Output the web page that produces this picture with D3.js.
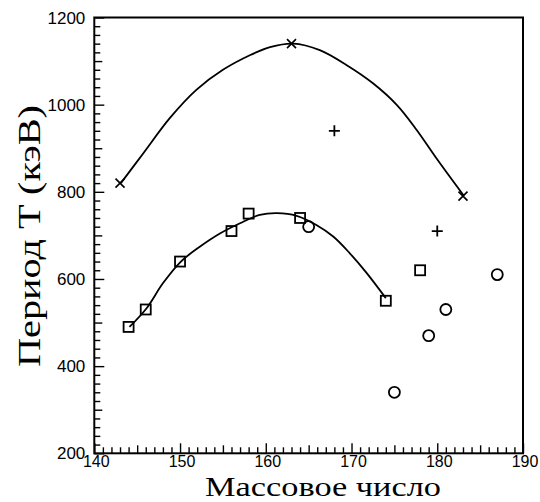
<!DOCTYPE html>
<html><head><meta charset="utf-8">
<script src="https://cdn.jsdelivr.net/npm/d3@7"></script>
<style>body{margin:0;background:#fff}svg{display:block}</style>
</head><body>
<script>
// Data
const crossX = [143, 163, 183];
const crossY = [820, 1140, 790];
const plusX = [168, 180];
const plusY = [940, 710];
const squareX = [144, 146, 150, 156, 158, 164, 174, 178];
const squareY = [490, 530, 640, 710, 750, 740, 550, 620];
const circleX = [165, 175, 179, 181, 187];
const circleY = [720, 340, 470, 530, 610];
// fitted curves
const upperCurveX = [143.1, 145.7, 148.8, 151.9, 155.0, 158.2, 160.5, 163.2, 166.3, 169.4, 172.5, 175.3, 177.6, 179.9, 183.1];
const upperCurveY = [820, 888, 969, 1034, 1080, 1114, 1132, 1140, 1125, 1091, 1049, 999, 942, 877, 791];
const lowerCurveX = [144.1, 146.1, 148.0, 150.1, 152.3, 154.7, 157.0, 159.3, 161.3, 163.6, 165.9, 167.9, 169.8, 171.8, 174.0];
const lowerCurveY = [490, 533, 590, 640, 674, 705, 728, 747, 751, 745, 724, 697, 659, 613, 556];
const xTicks = [140, 150, 160, 170, 180, 190];
const yTicks = [200, 400, 600, 800, 1000, 1200];
const xLabel = "Массовое число";
const yLabel = "Период T (кэВ)";

const W = 540, H = 502;
const m = {left: 94.3, right: 523, top: 17.5, bottom: 453.3};
const svg = d3.select("body").append("svg").attr("width", W).attr("height", H);
const x = d3.scaleLinear().domain([140, 190]).range([m.left, m.right]);
const y = d3.scaleLinear().domain([200, 1200]).range([m.bottom, m.top]);

// frame
svg.append("rect").attr("x", m.left).attr("y", m.top).attr("width", m.right - m.left).attr("height", m.bottom - m.top)
  .attr("fill", "none").attr("stroke", "#000").attr("stroke-width", 2);

// ticks (inward, bottom and left only) via d3 axes
const xAxis = d3.axisTop(x).tickValues(d3.range(140, 191, 1)).tickSize(6).tickFormat("");
const gx = svg.append("g").attr("transform", `translate(0,${m.bottom})`).call(xAxis);
gx.selectAll(".tick line").attr("y2", d => -(d % 10 === 0 ? 10 : (d % 5 === 0 ? 8 : 6)))
  .attr("stroke", "#000").attr("stroke-width", 1.4);
gx.select(".domain").remove();
const yAxis = d3.axisRight(y).tickValues(d3.range(200, 1201, 20)).tickSize(6).tickFormat("");
const gy = svg.append("g").attr("transform", `translate(${m.left},0)`).call(yAxis);
gy.selectAll(".tick line").attr("x2", d => (d % 200 === 0 ? 10 : (d % 100 === 0 ? 8 : 6)))
  .attr("stroke", "#000").attr("stroke-width", 1.4);
gy.select(".domain").remove();

// tick labels
svg.append("g").selectAll("text").data(xTicks).join("text")
  .attr("x", d => x(d) + 2).attr("y", m.bottom + 13.5).attr("text-anchor", "middle")
  .attr("font-family", "Liberation Sans, Arial, sans-serif").attr("font-size", 16).text(d => d);
svg.append("g").selectAll("text").data(yTicks).join("text")
  .attr("x", m.left - 9).attr("y", d => y(d) + 6).attr("text-anchor", "end")
  .attr("font-family", "Liberation Sans, Arial, sans-serif").attr("font-size", 17).text(d => d);

// axis titles
svg.append("text").attr("x", 205).attr("y", 496)
  .attr("textLength", 236).attr("lengthAdjust", "spacingAndGlyphs")
  .attr("font-family", "Liberation Serif, Times New Roman, serif").attr("font-size", 27).text(xLabel);
svg.append("text").attr("transform", `translate(40,367) rotate(-90)`)
  .attr("textLength", 262).attr("lengthAdjust", "spacingAndGlyphs")
  .attr("font-family", "Liberation Serif, Times New Roman, serif").attr("font-size", 31).text(yLabel);

// curves
const line = d3.line().x(d => x(d[0])).y(d => y(d[1])).curve(d3.curveCatmullRom);
svg.append("path").datum(d3.zip(upperCurveX, upperCurveY)).attr("d", line)
  .attr("fill", "none").attr("stroke", "#000").attr("stroke-width", 1.8);
svg.append("path").datum(d3.zip(lowerCurveX, lowerCurveY)).attr("d", line)
  .attr("fill", "none").attr("stroke", "#000").attr("stroke-width", 1.8);

// markers
const s = 4.5;
svg.append("g").selectAll("path").data(d3.zip(crossX, crossY)).join("path")
  .attr("d", d => `M${x(d[0]) - s},${y(d[1]) - s}L${x(d[0]) + s},${y(d[1]) + s}M${x(d[0]) - s},${y(d[1]) + s}L${x(d[0]) + s},${y(d[1]) - s}`)
  .attr("stroke", "#000").attr("stroke-width", 1.6);
svg.append("g").selectAll("path").data(d3.zip(plusX, plusY)).join("path")
  .attr("d", d => `M${x(d[0]) - 5.5},${y(d[1])}L${x(d[0]) + 5.5},${y(d[1])}M${x(d[0])},${y(d[1]) - 5.5}L${x(d[0])},${y(d[1]) + 5.5}`)
  .attr("stroke", "#000").attr("stroke-width", 1.8);
svg.append("g").selectAll("rect").data(d3.zip(squareX, squareY)).join("rect")
  .attr("x", d => x(d[0]) - 5).attr("y", d => y(d[1]) - 5).attr("width", 10).attr("height", 10)
  .attr("fill", "none").attr("stroke", "#000").attr("stroke-width", 1.8);
svg.append("g").selectAll("circle").data(d3.zip(circleX, circleY)).join("circle")
  .attr("cx", d => x(d[0])).attr("cy", d => y(d[1])).attr("r", 5.5)
  .attr("fill", "none").attr("stroke", "#000").attr("stroke-width", 1.8);
</script>
</body></html>
